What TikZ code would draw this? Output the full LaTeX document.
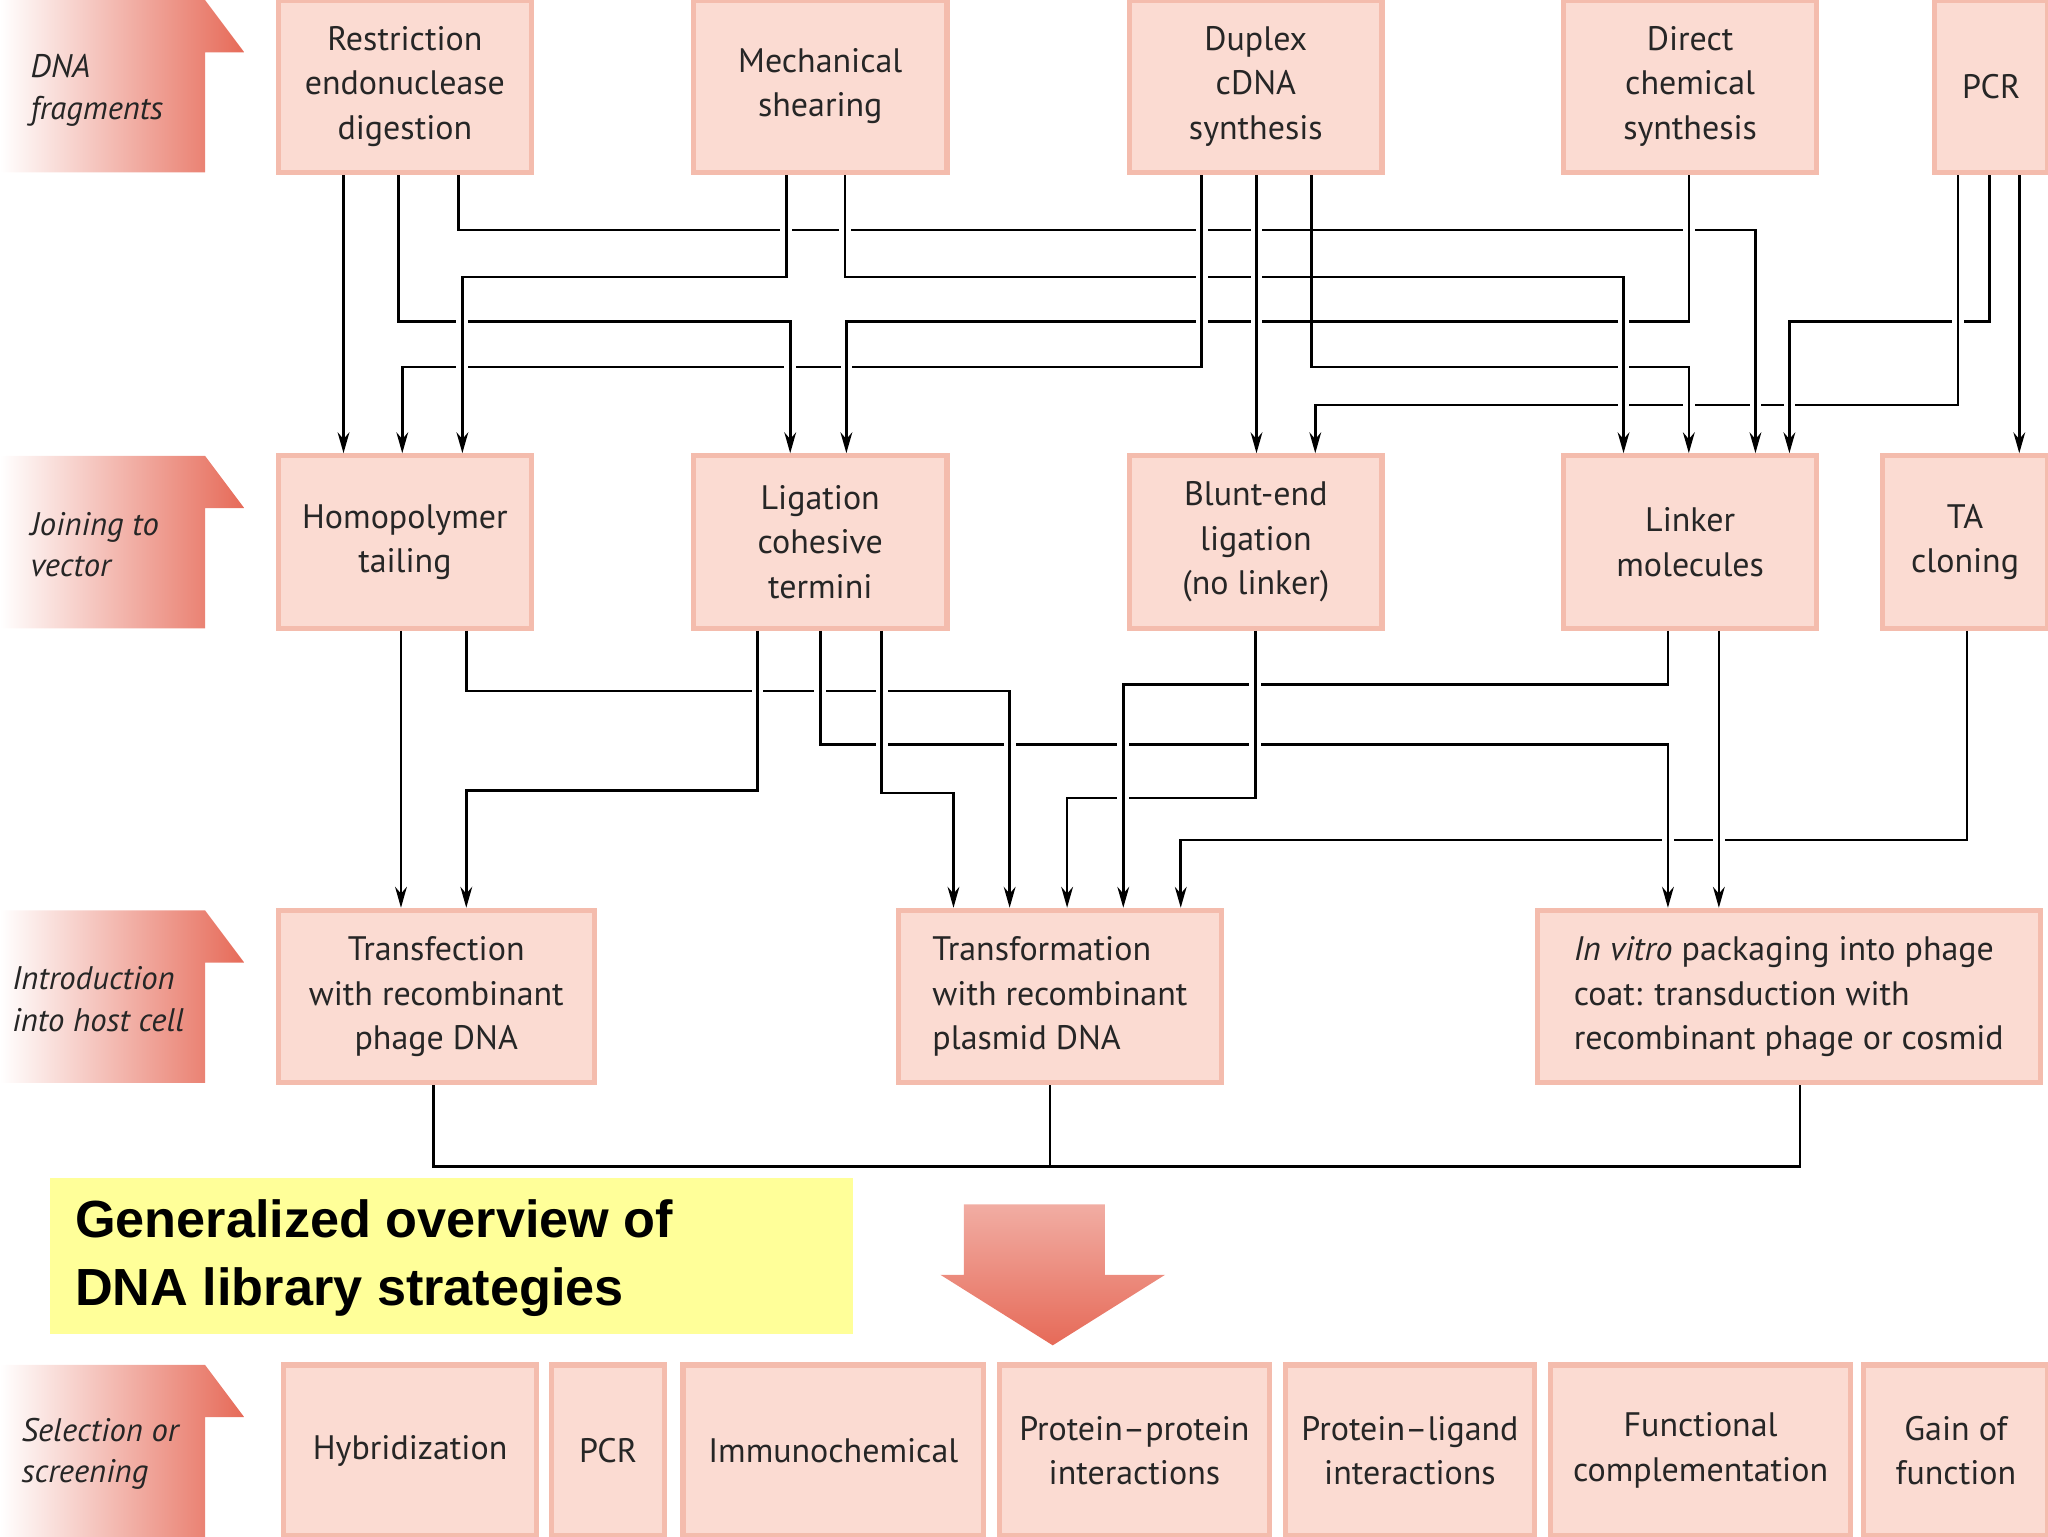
\documentclass[tikz,border=0pt]{standalone}
\usepackage{fontspec}
\setmainfont{PT Sans}
\newfontfamily\titlefont{Liberation Sans}
\usetikzlibrary{arrows.meta}
\definecolor{boxfill}{HTML}{FBDBD2}
\definecolor{boxedge}{HTML}{F4BCAD}
\definecolor{salmon}{HTML}{E66A58}
\definecolor{titley}{HTML}{FFFF99}
\tikzset{
  box/.style={fill=boxfill, draw=boxedge, line width=4pt, inner sep=2pt, align=center,
     font=\fontsize{26}{34}\selectfont, text=black!85},
  conn/.style={line width=2pt, black, -{Stealth[length=16pt,width=9pt]}},
  plain/.style={line width=2pt, black},
  halo/.style={line width=9pt, white},
  side/.style={left color=white, right color=salmon, draw=none},
  sidelab/.style={anchor=west, align=left, font=\itshape\fontsize{25}{32}\selectfont, text=black!85},
}
\newcommand{\vs}[3]{%
  \draw[halo] (#1,#2+9) -- (#1,#3-9);
  \draw[plain] (#1,#2) -- (#1,#3);}
\begin{document}
\begin{tikzpicture}[x=1pt,y=-1pt]
\useasboundingbox (0,0) rectangle (1568,1176);
% side arrows
\foreach \yy/\nm in {0/s1,349/s2,697/s3,1045/s4}{
  \path[side] (0,\yy) -- (157,\yy) -- (187,\yy+40) -- (157,\yy+40) -- (157,\yy+132) -- (0,\yy+132) -- cycle;
}
\node[sidelab] (l1) at (20,69) {DNA\\fragments};
\node[sidelab] (l2) at (20,417) {Joining to\\vector};
\node[sidelab] (l3) at (6,765) {Introduction\\into host cell};
\node[sidelab] (l4) at (13,1113) {Selection or\\screening};
% row 1
\node[box,minimum width=194pt,minimum height=132pt] (re) at (310,66) {Restriction\\endonuclease\\digestion};
\node[box,minimum width=194pt,minimum height=132pt] (me) at (628,66) {Mechanical\\shearing};
\node[box,minimum width=193pt,minimum height=132pt] (du) at (961.5,66) {Duplex\\cDNA\\synthesis};
\node[box,minimum width=194pt,minimum height=132pt] (di) at (1294,66) {Direct\\chemical\\synthesis};
\node[box,minimum width=87pt,minimum height=132pt] (pc) at (1524.5,66) {PCR};
% row 2
\node[box,minimum width=194pt,minimum height=132pt] (ho) at (310,415) {Homopolymer\\tailing};
\node[box,minimum width=194pt,minimum height=132pt] (li) at (628,415) {Ligation\\cohesive\\termini};
\node[box,minimum width=193pt,minimum height=132pt] (bl) at (961.5,415) {Blunt-end\\ligation\\(no linker)};
\node[box,minimum width=194pt,minimum height=132pt] (lk) at (1294,415) {Linker\\molecules};
\node[box,minimum width=127pt,minimum height=132pt] (ta) at (1504.5,415) {TA\\cloning};
% row 3
\node[box,minimum width=242pt,minimum height=132pt] (tf) at (334,763) {Transfection\\with recombinant\\phage DNA};
\node[box,minimum width=247pt,minimum height=132pt,align=left] (tr) at (811.5,763) {Transformation\\with recombinant\\plasmid DNA};
\node[box,minimum width=385pt,minimum height=132pt,align=left] (iv) at (1369.5,763) {\textit{In vitro} packaging into phage\\coat: transduction with\\recombinant phage or cosmid};
% row 4
\node[box,minimum width=194pt,minimum height=131pt] (hy) at (314,1110.5) {Hybridization};
\node[box,minimum width=87pt,minimum height=131pt] (p2) at (465.5,1110.5) {PCR};
\node[box,minimum width=230pt,minimum height=131pt] (im) at (638,1110.5) {Immunochemical};
\node[box,minimum width=207pt,minimum height=131pt] (pp) at (868.5,1110.5) {Protein--protein\\interactions};
\node[box,minimum width=191pt,minimum height=131pt] (pl) at (1079.5,1110.5) {Protein--ligand\\interactions};
\node[box,minimum width=230pt,minimum height=131pt] (fc) at (1302,1110.5) {Functional\\complementation};
\node[box,minimum width=141pt,minimum height=131pt] (go) at (1497.5,1110.5) {Gain of\\function};
% title
\node[fill=titley, minimum width=615pt, minimum height=119pt, inner sep=0pt] (tb) at (345.5,961.5) {};
\node[anchor=west, align=left, font=\titlefont\bfseries\fontsize{40}{52}\selectfont] (tt) at (54,963) {Generalized overview of\\DNA library strategies};
% big arrow
\path[top color=salmon!55, bottom color=salmon] (738,922) -- (846,922) -- (846,976) -- (892,976) -- (806,1030) -- (720,976) -- (738,976) -- cycle;
% ---- connectors row1 -> row2
\draw[conn] (263,0 |- re.south) -- (263,0 |- ho.north);
\draw[conn] (305,0 |- re.south) |- (605,246) -- (605,0 |- li.north);
\draw[conn] (351,0 |- re.south) |- (1344,176) -- (1344,0 |- lk.north);
\draw[conn] (602,0 |- me.south) |- (354,212) -- (354,0 |- ho.north);
\draw[conn] (647,0 |- me.south) |- (1243,212) -- (1243,0 |- lk.north);
\draw[conn] (1293,0 |- di.south) |- (648,246) -- (648,0 |- li.north);
\draw[conn] (920,0 |- du.south) |- (308,281) -- (308,0 |- ho.north);
\draw[conn] (962,0 |- du.south) -- (962,0 |- bl.north);
\draw[conn] (1004,0 |- du.south) |- (1293,281) -- (1293,0 |- lk.north);
\draw[conn] (1523,0 |- pc.south) |- (1370,246) -- (1370,0 |- lk.north);
\draw[conn] (1499,0 |- pc.south) |- (1007,310) -- (1007,0 |- bl.north);
\draw[conn] (1546,0 |- pc.south) -- (1546,0 |- ta.north);
% ---- connectors row2 -> row3
\draw[conn] (307,0 |- ho.south) -- (307,0 |- tf.north);
\draw[conn] (357,0 |- ho.south) |- (773,529) -- (773,0 |- tr.north);
\draw[conn] (580,0 |- li.south) |- (357,605) -- (357,0 |- tf.north);
\draw[conn] (628,0 |- li.south) |- (1277,570) -- (1277,0 |- iv.north);
\draw[conn] (675,0 |- li.south) |- (730,607) -- (730,0 |- tr.north);
\draw[conn] (961,0 |- bl.south) |- (817,611) -- (817,0 |- tr.north);
\draw[conn] (1277,0 |- lk.south) |- (860,524) -- (860,0 |- tr.north);
\draw[conn] (1316,0 |- lk.south) -- (1316,0 |- iv.north);
\draw[conn] (1506,0 |- ta.south) |- (904,643) -- (904,0 |- tr.north);
% bridges: vertical segments over horizontals
\vs{263}{134}{325}\vs{305}{134}{246}\vs{605}{246}{325}\vs{351}{134}{176}\vs{1344}{176}{325}
\vs{602}{134}{212}\vs{354}{212}{325}\vs{647}{134}{212}\vs{1243}{212}{325}\vs{1293}{134}{246}
\vs{648}{246}{325}\vs{920}{134}{281}\vs{308}{281}{325}\vs{962}{134}{325}\vs{1293}{281}{325}
\vs{1523}{134}{246}\vs{1370}{246}{325}\vs{1499}{134}{310}\vs{1007}{310}{325}\vs{1546}{134}{325}
\vs{307}{483}{672}\vs{357}{483}{529}\vs{773}{529}{672}\vs{580}{483}{605}\vs{357}{605}{672}
\vs{628}{483}{570}\vs{1277}{570}{672}\vs{675}{483}{607}\vs{730}{607}{672}\vs{961}{483}{611}
\vs{817}{611}{672}\vs{1277}{483}{524}\vs{860}{524}{672}\vs{1316}{483}{672}\vs{1506}{483}{643}
\vs{904}{643}{672}
% ---- row3 -> bottom
\draw[plain] (332,0 |- tf.south) |- (1378,893) -- (1378,0 |- iv.south);
\draw[plain] (804,0 |- tr.south) -- (804,893);
\end{tikzpicture}
\end{document}
